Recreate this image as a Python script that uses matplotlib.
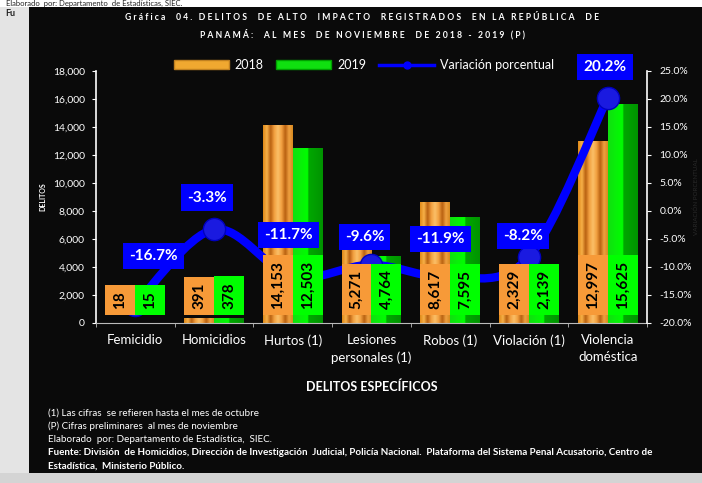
import numpy as np
import matplotlib.pyplot as plt
from matplotlib.patches import Rectangle, Patch
from matplotlib.lines import Line2D
from matplotlib.path import Path
from matplotlib.patches import PathPatch
from matplotlib.colors import LinearSegmentedColormap

plt.rcParams['font.family'] = ['Lato', 'DejaVu Sans']

# DATA
categories = ["Femicidio", "Homicidios", "Hurtos (1)", "Lesiones\npersonales (1)",
              "Robos (1)", "Violación (1)", "Violencia\ndoméstica"]
delitos_2018 = [18, 391, 14153, 5271, 8617, 2329, 12997]
delitos_2019 = [15, 378, 12503, 4764, 7595, 2139, 15625]
variacion = [-16.7, -3.3, -11.7, -9.6, -11.9, -8.2, 20.2]

left_ticks = [0, 2000, 4000, 6000, 8000, 10000, 12000, 14000, 16000, 18000]
right_ticks = [-20, -15, -10, -5, 0, 5, 10, 15, 20, 25]

titulo = ["Gráfica  04. DELITOS  DE ALTO  IMPACTO  REGISTRADOS  EN LA REPÚBLICA  DE",
          "PANAMÁ:  AL MES  DE NOVIEMBRE  DE 2018 - 2019 (P)"]
notas = ["(1) Las cifras  se refieren hasta el mes de octubre",
         "(P) Cifras preliminares  al mes de noviembre",
         "Elaborado  por: Departamento de Estadística,  SIEC.",
         "Fuente: División  de Homicidios, Dirección de Investigación  Judicial, Policía Nacional.  Plataforma del Sistema Penal Acusatorio, Centro de",
         "Estadística,  Ministerio Público."]

ORANGE = "#f79a38"
GREEN = "#00ff00"
BLUE = "#0000ff"
BG = "#0a0a0a"

cmap_or = LinearSegmentedColormap.from_list("or", ["#e08a1a", "#f7b048", "#b86010", "#f2a040",
                                                    "#fbc068", "#f2a040", "#b86010", "#eea040", "#d88a20"])
cmap_gr = LinearSegmentedColormap.from_list("gr", [(0, "#10e010"), (0.5, "#00ff00"),
                                                   (0.52, "#00a800"), (1, "#009400")])


def spaced(s):
    return " ".join(list(s))


fig = plt.figure(figsize=(7.02, 4.83), dpi=100, facecolor="white")

# page background pieces
fig.patches.append(Rectangle((0, 0), 29 / 702, 1 - 7 / 483, transform=fig.transFigure,
                             facecolor="#e4e4e4", edgecolor="none", zorder=-3))
fig.patches.append(Rectangle((29 / 702, 10 / 483), 1 - 29 / 702, 1 - 17 / 483, transform=fig.transFigure,
                             facecolor=BG, edgecolor="none", zorder=-2))
fig.patches.append(Rectangle((0, 0), 1, 10 / 483, transform=fig.transFigure,
                             facecolor="#d4d4d4", edgecolor="none", zorder=-2))
fig.text(0.008, 1 - 3.5 / 483, "Elaborado  por: Departamento  de Estadísticas, SIEC.", fontsize=5.5,
         color="#222222", va="center", ha="left")
fig.text(0.008, 1 - 13 / 483, "Fu", fontsize=6.5, color="#222222", weight="bold", va="center")

ax = fig.add_axes([96 / 702, 160 / 483, 551 / 702, 252 / 483])
ax.set_facecolor("none")
x = np.arange(len(categories))
w = 0.38

bars18 = ax.bar(x - w / 2, delitos_2018, w, color=ORANGE, zorder=2)
bars19 = ax.bar(x + w / 2, delitos_2019, w, color=GREEN, zorder=2)

grad = np.linspace(0, 1, 64).reshape(1, -1)
for bars, cm in [(bars18, cmap_or), (bars19, cmap_gr)]:
    for b in bars:
        x0, h = b.get_x(), b.get_height()
        im = ax.imshow(grad, extent=[x0, x0 + b.get_width(), 0, h], aspect="auto",
                       cmap=cm, zorder=2.5, interpolation="bilinear")
        im.set_clip_path(b)

ax.set_xlim(-0.5, len(categories) - 0.5)
ax.set_ylim(0, 18000)
ax.set_yticks(left_ticks)
ax.set_yticklabels([f"{v:,}" for v in left_ticks])
ax.set_xticks(x)
ax.set_xticklabels(categories, fontsize=9.5, color="white", linespacing=1.5)
ax.set_xticks(np.arange(len(categories) + 1) - 0.5, minor=True)
ax.tick_params(axis="x", which="major", length=0, pad=8)
ax.tick_params(axis="x", which="minor", length=3, color="#bbbbbb", direction="out")
ax.tick_params(axis="y", colors="white", labelsize=7.5, length=3, direction="out", pad=5)
for s in ["top", "right"]:
    ax.spines[s].set_visible(False)
ax.spines["left"].set_color("white")
ax.spines["left"].set_linewidth(1.2)
ax.spines["bottom"].set_color("#bbbbbb")
ax.set_ylabel("DELITOS", fontsize=5, color="white", weight="bold", labelpad=5)
ax.set_xlabel("DELITOS ESPECÍFICOS", fontsize=9, color="white", weight="bold", labelpad=12)

ax2 = ax.twinx()
ax2.set_ylim(-20, 25)
ax2.set_yticks(right_ticks)
ax2.set_yticklabels([f"{v:.1f}%" for v in right_ticks])
ax2.tick_params(axis="y", colors="white", labelsize=7.5, length=3, direction="out", pad=6)
for s in ["top", "left", "bottom"]:
    ax2.spines[s].set_visible(False)
ax2.spines["right"].set_color("white")
ax2.spines["right"].set_linewidth(1.2)
ax2.set_ylabel("VARIACIÓN PORCENTUAL", fontsize=4.5, color="#2a2a2a", labelpad=1)

# smooth line (bezier through the points)
pts = np.column_stack([x, variacion]).astype(float)
ext = np.vstack([pts[0], pts, pts[-1]])
verts = [tuple(pts[0])]
codes = [Path.MOVETO]
for i in range(len(pts) - 1):
    p0, p1, p2, p3 = ext[i], ext[i + 1], ext[i + 2], ext[i + 3]
    c1 = p1 + (p2 - p0) / 6
    c2 = p2 - (p3 - p1) / 6
    verts += [tuple(c1), tuple(c2), tuple(p2)]
    codes += [Path.CURVE4] * 3
ax2.add_patch(PathPatch(Path(verts, codes), facecolor="none", edgecolor=BLUE, lw=6,
                        capstyle="round", zorder=3))
ax2.plot(x, variacion, ls="none", marker="o", ms=16, mfc="#1a1ae0", mec="#0000c0", zorder=4)

# value labels (in front of the line), box as wide as the bar
px = 18000 / 252  # data units per pixel on the left axis
labels = []
for xs, vals, col in [(x - w / 2, delitos_2018, ORANGE), (x + w / 2, delitos_2019, GREEN)]:
    for xi, v in zip(xs, vals):
        t = ax2.text(xi, 14 * px, f"{v:,}", transform=ax.transData, rotation=90, ha="center",
                     va="bottom", fontsize=11, weight="bold", color="black", zorder=5.5)
        labels.append((t, xi, col))

fig.canvas.draw()
inv = ax.transData.inverted()
for t, xi, col in labels:
    bb = t.get_window_extent()
    y0 = inv.transform((0, bb.y0))[1] - 6 * px
    y1 = inv.transform((0, bb.y1))[1] + 6 * px
    ax2.add_patch(Rectangle((xi - w / 2, y0), w, y1 - y0, transform=ax.transData,
                            facecolor=col, edgecolor="none", zorder=5))

# percentage labels
offs = [(13, 35), (-5, 23), (-3, 30), (-5, 20), (-7, 28), (-4, 15), (-2, 22)]
for xi, v, o in zip(x, variacion, offs):
    ax2.annotate(f"{v:.1f}%", (xi, v), xytext=o, textcoords="offset points", ha="center",
                 va="center", fontsize=11, weight="bold", color="white", zorder=6,
                 bbox=dict(boxstyle="square,pad=0.4", facecolor=BLUE, edgecolor="none"))

# legend
handles = [Patch(facecolor="#f0a830", edgecolor="#c08020"),
           Patch(facecolor="#10e010", edgecolor="#00a000"),
           Line2D([0], [0], color=BLUE, lw=2.5, marker="o", ms=5)]
fig.legend(handles, ["2018", "2019", "Variación porcentual"], loc="center",
           bbox_to_anchor=(364 / 702, 1 - 65 / 483), ncol=3, frameon=False, fontsize=9,
           labelcolor="white", handlelength=4.4, handleheight=0.7, columnspacing=1.0,
           handletextpad=0.5)

fig.text(362 / 702, 1 - 17 / 483, spaced(titulo[0]), fontsize=6.2, color="white",
         weight="bold", ha="center", va="center")
fig.text(362 / 702, 1 - 34 / 483, spaced(titulo[1]), fontsize=6.2, color="white",
         weight="bold", ha="center", va="center")

for i, n in enumerate(notas):
    fig.text(48 / 702, 1 - (413 + 13.3 * i) / 483, n, fontsize=7.1, color="white",
             weight="bold" if i >= 3 else "normal", va="center", ha="left")

fig.savefig("out.png", dpi=100, facecolor="white")
